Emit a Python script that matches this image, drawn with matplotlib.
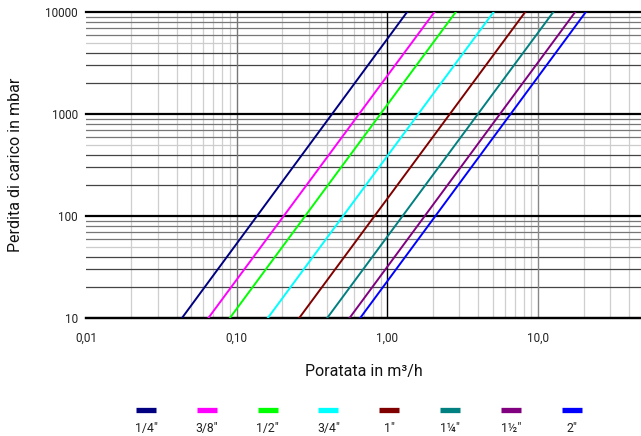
import numpy as np
import matplotlib
matplotlib.use('Agg')
import matplotlib.pyplot as plt
from matplotlib.lines import Line2D

plt.rcParams['font.family'] = ['Roboto', 'DejaVu Sans']

# pipe sizes and colours
sizes = ['1/4"', '3/8"', '1/2"', '3/4"', '1"', '1\u00bc"', '1\u00bd"', '2"']
colors = ['#000080', '#ff00ff', '#00ff00', '#00ffff', '#800000', '#008080', '#800080', '#0000ff']

# pressure drop end points (mbar) and flow (m3/h) read at those points
dp_ends = [10, 10000]
q_at_10 = [0.0433, 0.0648, 0.090, 0.1607, 0.2596, 0.398, 0.560, 0.659]
q_at_10000 = [1.35, 2.05, 2.84, 5.06, 8.20, 12.6, 17.6, 20.7]

xticks = [0.01, 0.1, 1, 10]
xticklabels = ['0,01', '0,10', '1,00', '10,0']
yticks = [10, 100, 1000, 10000]

fig = plt.figure(figsize=(6.41, 4.36), dpi=100)
ax = fig.add_axes([0.1342, 0.2706, 0.8658, 0.7019])

for q0, q1, c in zip(q_at_10, q_at_10000, colors):
    ax.plot([q0, q1], dp_ends, color=c, lw=1.4, zorder=5)

ax.set_xscale('log')
ax.set_yscale('log')
ax.set_xlim(0.01, 10 ** 1.682)
ax.set_ylim(10, 10000)

# grid: vertical lines
for dec in [0.01, 0.1, 1, 10]:
    for m in range(2, 10):
        v = dec * m
        if v < 10 ** 1.682:
            ax.axvline(v, color='#cfcfcf', lw=0.9, zorder=1)
ax.axvline(0.1, color='#777777', lw=1.0, zorder=2)
ax.axvline(1, color='#000000', lw=1.0, zorder=2)
ax.axvline(10, color='#888888', lw=1.0, zorder=2)

# grid: horizontal lines
for dec in [10, 100, 1000]:
    for m in range(2, 10):
        col = '#cccccc' if m == 5 else ('#444444' if m < 5 else '#777777')
        ax.axhline(dec * m, color=col, lw=0.9, zorder=1)
for v in yticks:
    ax.axhline(v, color='#000000', lw=1.6, zorder=3, clip_on=False)

for s in ['left', 'right', 'top']:
    ax.spines[s].set_visible(False)
ax.spines['bottom'].set_color('black')
ax.spines['bottom'].set_linewidth(1.6)

ax.set_xticks(xticks)
ax.set_xticklabels(xticklabels)
ax.set_yticks(yticks)
ax.set_yticklabels([str(v) for v in yticks])
ax.minorticks_off()
ax.tick_params(axis='both', length=0, labelsize=8.5, colors='#222222')
ax.tick_params(axis='x', pad=10)
ax.tick_params(axis='y', pad=6)

ax.set_ylabel('Perdita di carico in mbar', fontsize=11.5, labelpad=16, color='#111111')
ax.set_xlabel('Poratata in m\u00b3/h', fontsize=11.5, labelpad=14, color='#111111')

# legend below: handle above label
for i, (lab, c) in enumerate(zip(sizes, colors)):
    xc = (146 + i * 60.8) / 641
    fig.add_artist(Line2D([xc - 10 / 641, xc + 10 / 641], [1 - 410 / 436] * 2,
                          color=c, lw=3.8, solid_capstyle='butt'))
    fig.text(xc, 1 - 428 / 436, lab, ha='center', va='center', fontsize=8.8, color='#222222')

fig.savefig('out.png', dpi=100)
